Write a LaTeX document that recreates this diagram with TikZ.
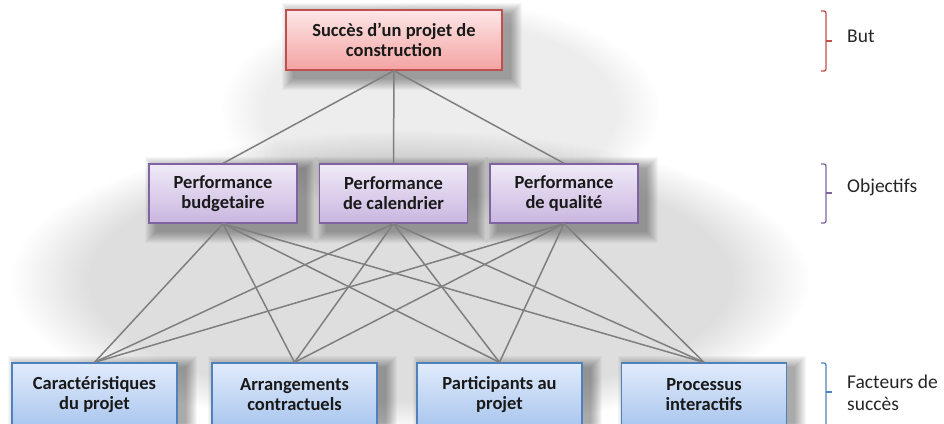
\documentclass[tikz,border=0pt]{standalone}
\usepackage{fontspec}
\setmainfont{Carlito}
\usetikzlibrary{fadings}
\definecolor{redB}{HTML}{C0504D}
\definecolor{purB}{HTML}{8064A2}
\definecolor{bluB}{HTML}{4F81BD}
\definecolor{redT}{HTML}{FDE6E6}
\definecolor{redL}{HTML}{F3A3A2}
\definecolor{purT}{HTML}{F0EAF7}
\definecolor{purL}{HTML}{C9B6E0}
\definecolor{bluT}{HTML}{E1EBFB}
\definecolor{bluL}{HTML}{A9C6EE}
\definecolor{lineG}{HTML}{7F7F7F}
\tikzset{
  boxbase/.style={draw, line width=1.3pt, align=center, inner sep=0pt,
    font=\fontsize{18.5}{20}\selectfont\bfseries, text=black!90},
  goalbox/.style={boxbase, draw=redB, top color=redT, bottom color=redL,
    minimum width=216pt, minimum height=60pt},
  objbox/.style={boxbase, draw=purB, top color=purT, bottom color=purL,
    minimum width=148pt, minimum height=59pt},
  facbox/.style={boxbase, draw=bluB, top color=bluT, bottom color=bluL,
    minimum width=165pt, minimum height=64pt},
  link/.style={draw=lineG, line width=1.5pt},
  brace/.style={line width=1.3pt, rounded corners=2pt},
  lbl/.style={anchor=west, font=\fontsize{19.5}{22}\selectfont, text=black!85, align=left, inner sep=0pt}
}
\newcommand{\softshadow}[4]{% x1 y1 x2 y2 (pixel)
  \foreach \k in {1,...,12}{
    \fill[black, opacity=0.03] (#1+8-\k,#2+5-\k) rectangle (#3+8+\k,#4+8+\k);
  }
}
\begin{document}
\begin{tikzpicture}[x=1pt,y=-1pt]
\clip (0,0) rectangle (944,423);
\fill[white] (0,0) rectangle (944,423);
% large diffuse background shadow
\fill[black, opacity=0.13, path fading=circle with fuzzy edge 20 percent] (410,280) ellipse (400 and 150);
\fill[black, opacity=0.07, path fading=circle with fuzzy edge 20 percent] (440,110) ellipse (220 and 110);
% box shadows
\softshadow{286}{10}{502}{70}
\softshadow{149}{164}{297}{223}
\softshadow{319}{164}{468}{223}
\softshadow{490}{164}{638}{223}
\softshadow{12}{363}{177}{430}
\softshadow{212}{363}{377}{430}
\softshadow{417}{363}{582}{430}
\softshadow{622}{363}{786}{430}

% nodes
\node[goalbox] (g) at (394,40) {Succès d’un projet de\\construction};
\node[objbox] (o1) at (223,193.5) {Performance\\budgetaire};
\node[objbox] (o2) at (393.5,193.5) {Performance\\de calendrier};
\node[objbox] (o3) at (564,193.5) {Performance\\de qualité};
\node[facbox] (f1) at (94.5,395) {Caractéristiques\\du projet};
\node[facbox] (f2) at (294.5,395) {Arrangements\\contractuels};
\node[facbox] (f3) at (499.5,395) {Participants au\\projet};
\node[facbox] (f4) at (704,395) {Processus\\interactifs};

% connectors
\foreach \o in {o1,o2,o3}{
  \draw[link] (g.south) -- (\o.north);
  \foreach \f in {f1,f2,f3,f4}{
    \draw[link] (\o.south) -- (\f.north);
  }
}

% brackets
\draw[brace, redB] (821,11) -- (826,11) -- (826,71) -- (821,71);
\draw[brace, redB] (826,41) -- (832,41);
\node[lbl] (lb1) at (847,36) {But};

\draw[brace, purB] (821,164) -- (826,164) -- (826,223) -- (821,223);
\draw[brace, purB] (826,193) -- (832,193);
\node[lbl] (lb2) at (847,187) {Objectifs};

\draw[brace, bluB] (821,363) -- (826,363) -- (826,430) -- (821,430);
\draw[brace, bluB] (826,392) -- (832,392);
\node[lbl, align=left] (lb3) at (847,393) {Facteurs de\\succès};
\end{tikzpicture}
\end{document}
